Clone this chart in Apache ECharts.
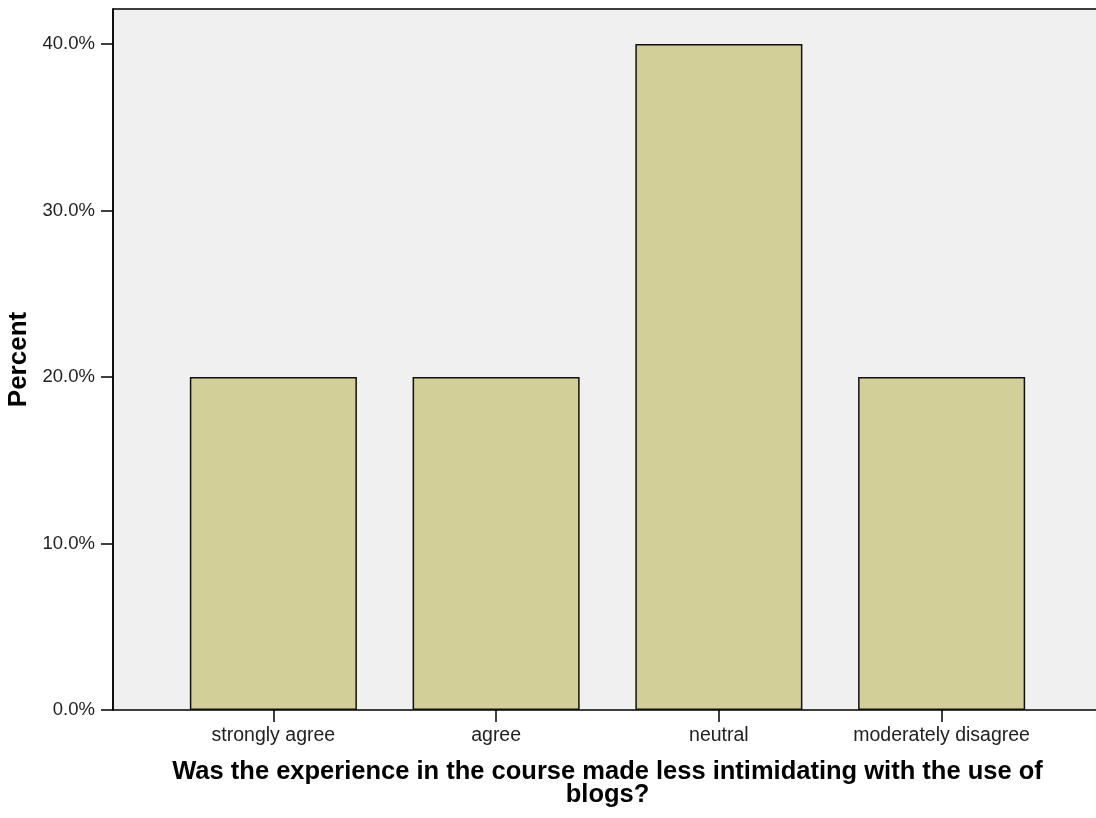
<!DOCTYPE html>
<html>
<head>
<meta charset="utf-8">
<script src="https://cdn.jsdelivr.net/npm/echarts@6/dist/echarts.min.js"></script>
<style>
  html, body { margin: 0; padding: 0; background: #fff; }
  #chart { width: 1096px; height: 818px; }
</style>
</head>
<body>
<div id="chart"></div>
<script>
var categories = ['strongly agree', 'agree', 'neutral', 'moderately disagree'];
var percents = [20.0, 20.0, 40.0, 20.0];
var yTicks = [0, 10, 20, 30, 40];

var dom = document.getElementById('chart');
var myChart = echarts.init(dom);
var FONT = 'Liberation Sans, Arial, sans-serif';

var option = {
    animation: false,
    grid: [
        // frame / background
        { left: 113, top: 9, width: 1000, bottom: 108, show: true, outerBoundsMode: 'none',
          containLabel: false,
          backgroundColor: '#f0f0f0', borderColor: '#000', borderWidth: 1.5 },
        // bars
        { left: 162, top: 9, width: 891, bottom: 108, outerBoundsMode: 'none',
          containLabel: false }
    ],
    xAxis: [
        { gridIndex: 0, type: 'value', show: false, min: 0, max: 1 },
        {
            gridIndex: 1,
            type: 'category',
            data: categories,
            axisLine: { show: false },
            axisTick: { show: true, alignWithLabel: true, interval: 0, length: 12,
                        lineStyle: { color: '#000', width: 1.5 } },
            axisLabel: { interval: 0, color: '#222', fontFamily: FONT, fontSize: 19.5, margin: 16 },
            name: 'Was the experience in the course made less intimidating with the use of\nblogs?',
            nameLocation: 'middle',
            nameGap: 50,
            nameTextStyle: { color: '#000', fontFamily: FONT, fontSize: 25.5,
                             fontWeight: 'bold', lineHeight: 23 }
        }
    ],
    yAxis: [
        {
            gridIndex: 0,
            type: 'value',
            min: 0,
            max: 42.1,
            interval: 10,
            axisLine: { show: true, lineStyle: { color: '#000', width: 1.5 } },
            axisTick: { show: true, length: 12, lineStyle: { color: '#000', width: 1.5 } },
            splitLine: { show: false },
            axisLabel: {
                color: '#222', fontFamily: FONT, fontSize: 18.5, margin: 18,
                showMaxLabel: false,
                formatter: function (v) {
                    return yTicks.indexOf(v) >= 0 ? v.toFixed(1) + '%' : '';
                }
            },
            name: 'Percent',
            nameLocation: 'middle',
            nameGap: 78,
            nameTextStyle: { color: '#000', fontFamily: FONT, fontSize: 26, fontWeight: 'bold' }
        },
        { gridIndex: 1, type: 'value', show: false, min: 0, max: 42.1 }
    ],
    series: [
        {
            type: 'bar',
            xAxisIndex: 1,
            yAxisIndex: 1,
            data: percents,
            barWidth: '75%',
            itemStyle: { color: '#d3cf98', borderColor: '#111', borderWidth: 1.5 }
        }
    ]
};

myChart.setOption(option);
</script>
</body>
</html>
